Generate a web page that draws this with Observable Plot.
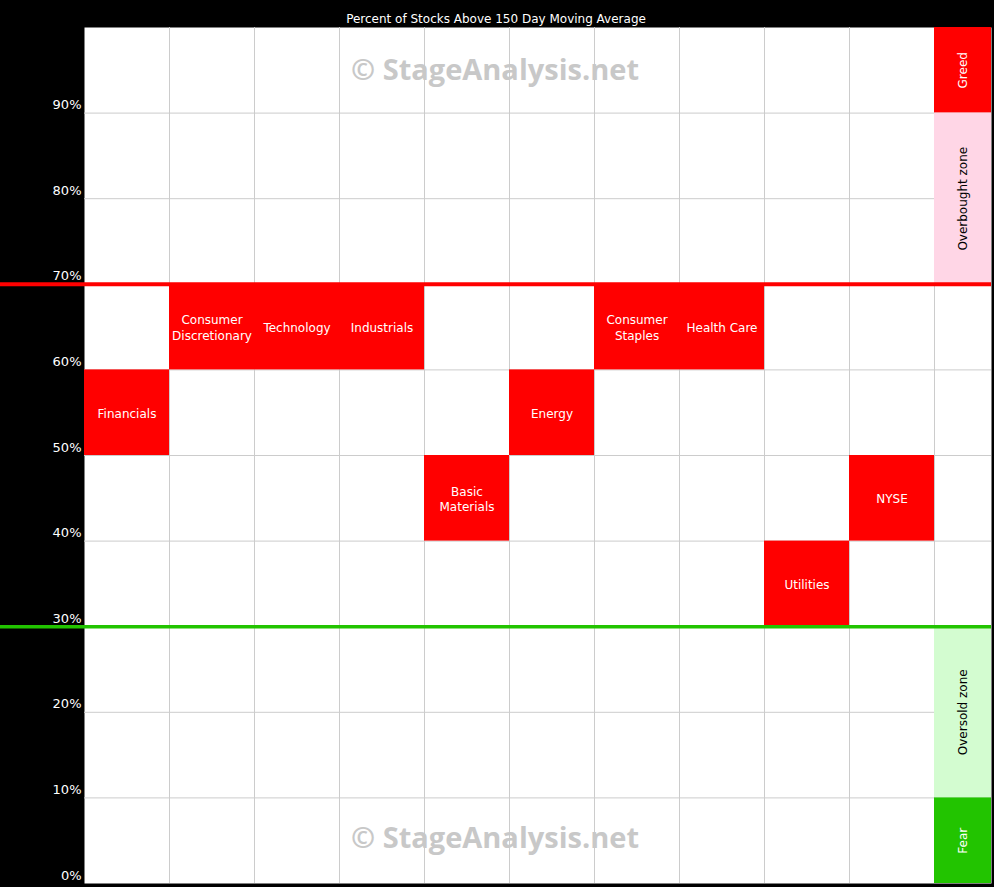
<!DOCTYPE html>
<html>
<head>
<meta charset="utf-8">
<script src="https://cdn.jsdelivr.net/npm/d3@7"></script>
<script src="https://cdn.jsdelivr.net/npm/@observablehq/plot@0.6"></script>
<style>
  html, body { margin: 0; padding: 0; background: #000; }
  #chart svg { display: block; }
</style>
</head>
<body>
<div id="chart"></div>
<script>
// ---- data ----
const chartTitle = "Percent of Stocks Above 150 Day Moving Average";
const watermark = "© StageAnalysis.net";
const sectors = ["Financials", "Consumer\nDiscretionary", "Technology", "Industrials", "Basic\nMaterials", "Energy", "Consumer\nStaples", "Health Care", "Utilities", "NYSE"];
const sectorBandLow = [50, 60, 60, 60, 40, 50, 60, 60, 30, 40];
const bandSize = 10;
const zoneNames = ["Greed", "Overbought zone", "Oversold zone", "Fear"];
const zoneFrom = [90, 70, 10, 0];
const zoneTo = [100, 90, 30, 10];
const zoneFill = ["#ff0000", "#ffd6e6", "#d3fcd0", "#22c400"];
const zoneTextColor = ["#ffffff", "#000000", "#000000", "#ffffff"];
const yTicks = [0, 10, 20, 30, 40, 50, 60, 70, 80, 90];
const overboughtLine = 70;
const oversoldLine = 30;

// ---- layout ----
const W = 994, H = 887;
const mL = 84, mR = 3, mT = 27, mB = 4;
const colW = 85, zoneW = 57;
const nCols = sectors.length;
const zoneSpan = zoneW / colW;
const xMax = nCols + zoneSpan;
const leftEdge = -mL / colW; // data x at the page's left edge

const cells = sectors.map((name, i) => ({name, i, lo: sectorBandLow[i], hi: sectorBandLow[i] + bandSize}));
const zones = zoneNames.map((name, i) => ({name, lo: zoneFrom[i], hi: zoneTo[i], fill: zoneFill[i], tc: zoneTextColor[i]}));
const vGrid = d3.range(1, nCols + 1);
const hGrid = yTicks.filter(d => d > 0);

const font = "'DejaVu Sans', sans-serif";
const wmFont = "'Open Sans', sans-serif";

const chart = Plot.plot({
  width: W, height: H,
  marginLeft: mL, marginRight: mR, marginTop: mT, marginBottom: mB,
  style: {background: "#000", fontFamily: font},
  x: {domain: [0, xMax], axis: null},
  y: {domain: [0, 100], axis: null},
  marks: [
    Plot.frame({fill: "#ffffff", stroke: null}),
    Plot.ruleX(vGrid, {x: d => d, stroke: "#cccccc", strokeWidth: 1}),
    Plot.ruleY(hGrid, {y: d => d, stroke: "#cccccc", strokeWidth: 1}),
    Plot.rect(zones, {x1: nCols, x2: xMax, y1: "lo", y2: "hi", fill: "fill"}),
    Plot.text(zones, {x: nCols + zoneSpan / 2, y: d => (d.lo + d.hi) / 2, text: "name", rotate: -90, fill: "tc", fontSize: 12}),
    Plot.rect(cells, {x1: "i", x2: d => d.i + 1, y1: "lo", y2: "hi", fill: "#ff0000"}),
    Plot.text(cells, {x: d => d.i + 0.5, y: d => (d.lo + d.hi) / 2, text: "name", fill: "#ffffff", fontSize: 12, lineHeight: 1.3}),
    Plot.text([watermark], {frameAnchor: "top", lineAnchor: "middle", dx: -43, dy: 43, text: d => d, fill: "#c8c8c8", fontSize: 29, fontWeight: "bold", fontFamily: wmFont}),
    Plot.text([watermark], {frameAnchor: "bottom", lineAnchor: "middle", dx: -43, dy: -45, text: d => d, fill: "#c8c8c8", fontSize: 29, fontWeight: "bold", fontFamily: wmFont}),
    Plot.ruleY([overboughtLine], {x1: leftEdge, x2: xMax, stroke: "#ff0000", strokeWidth: 4, clip: false}),
    Plot.ruleY([oversoldLine], {x1: leftEdge, x2: xMax, stroke: "#22c400", strokeWidth: 3.5, clip: false}),
    Plot.text(yTicks, {x: 0, y: d => d, text: d => d + "%", textAnchor: "end", dx: -3, dy: -8, fill: "#ffffff", fontSize: 13}),
    Plot.text([chartTitle], {frameAnchor: "top", lineAnchor: "middle", dx: -42, dy: -8, text: d => d, fill: "#ffffff", fontSize: 12})
  ]
});
document.getElementById("chart").appendChild(chart);
</script>
</body>
</html>
